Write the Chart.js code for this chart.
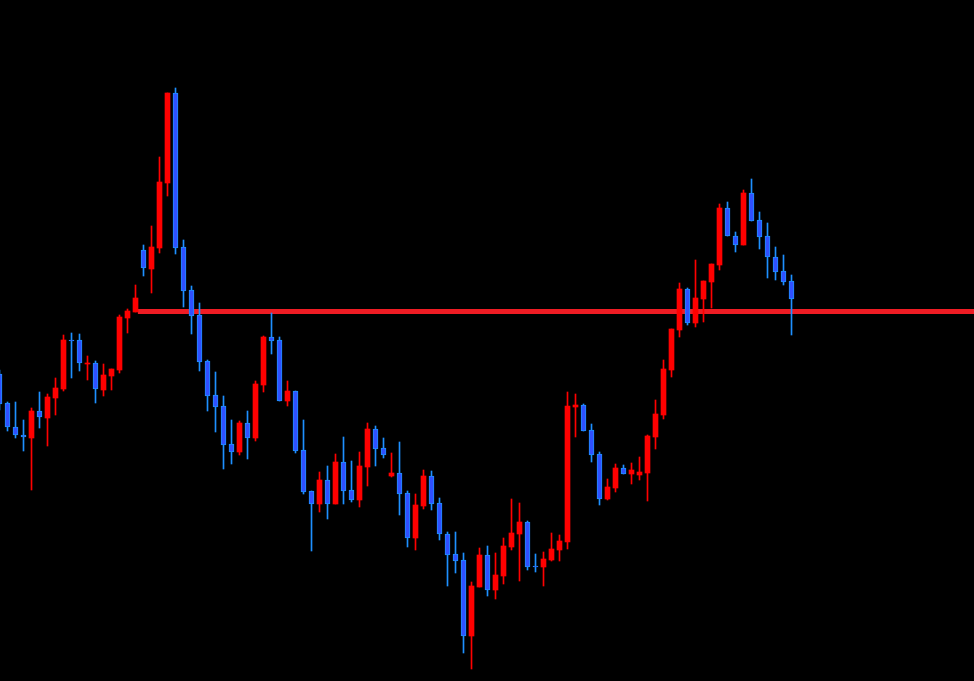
<!DOCTYPE html>
<html>
<head>
<meta charset="utf-8">
<title>Candles</title>
<script src="https://cdn.jsdelivr.net/npm/chart.js@4.4.1/dist/chart.umd.min.js"></script>
<style>
  html, body { margin: 0; padding: 0; background: #000; }
  #wrap { width: 974px; height: 681px; }
</style>
</head>
<body>
<div id="wrap"><canvas id="chart"></canvas></div>
<script>
// OHLC prices, one entry per bar (oldest first)
const opens = [
  1.2307, 1.2278, 1.2254, 1.2246, 1.2243, 1.2270, 1.2263, 1.2283, 1.2292, 1.2341,
  1.2341, 1.2317, 1.2318, 1.2291, 1.2305, 1.2311, 1.2363, 1.2369, 1.2431, 1.2412,
  1.2433, 1.2498, 1.2588, 1.2434, 1.2391, 1.2366, 1.2320, 1.2286, 1.2275, 1.2237,
  1.2229, 1.2258, 1.2243, 1.2296, 1.2344, 1.2341, 1.2280, 1.2290, 1.2231, 1.2190,
  1.2177, 1.2201, 1.2177, 1.2219, 1.2191, 1.2181, 1.2214, 1.2252, 1.2233, 1.2205,
  1.2208, 1.2188, 1.2143, 1.2175, 1.2205, 1.2178, 1.2147, 1.2127, 1.2121, 1.2045,
  1.2094, 1.2126, 1.2091, 1.2105, 1.2134, 1.2147, 1.2159, 1.2115, 1.2114, 1.2121,
  1.2131, 1.2139, 1.2274, 1.2276, 1.2251, 1.2227, 1.2182, 1.2193, 1.2213, 1.2207,
  1.2206, 1.2208, 1.2244, 1.2266, 1.2311, 1.2351, 1.2392, 1.2358, 1.2382, 1.2399,
  1.2416, 1.2473, 1.2445, 1.2436, 1.2488, 1.2461, 1.2445, 1.2424, 1.2410, 1.2400
];
const highs = [
  1.2311, 1.2279, 1.2279, 1.2261, 1.2273, 1.2289, 1.2287, 1.2303, 1.2346, 1.2348,
  1.2347, 1.2325, 1.2320, 1.2317, 1.2312, 1.2366, 1.2372, 1.2396, 1.2436, 1.2455,
  1.2524, 1.2588, 1.2593, 1.2441, 1.2395, 1.2378, 1.2321, 1.2309, 1.2285, 1.2261,
  1.2260, 1.2270, 1.2300, 1.2345, 1.2368, 1.2344, 1.2300, 1.2290, 1.2261, 1.2190,
  1.2209, 1.2215, 1.2227, 1.2244, 1.2220, 1.2229, 1.2258, 1.2255, 1.2243, 1.2228,
  1.2239, 1.2190, 1.2187, 1.2211, 1.2210, 1.2183, 1.2149, 1.2149, 1.2128, 1.2099,
  1.2133, 1.2135, 1.2128, 1.2143, 1.2182, 1.2178, 1.2160, 1.2127, 1.2129, 1.2148,
  1.2146, 1.2289, 1.2287, 1.2277, 1.2257, 1.2229, 1.2202, 1.2217, 1.2216, 1.2218,
  1.2224, 1.2246, 1.2281, 1.2321, 1.2352, 1.2398, 1.2393, 1.2421, 1.2400, 1.2417,
  1.2477, 1.2479, 1.2449, 1.2491, 1.2502, 1.2469, 1.2458, 1.2434, 1.2426, 1.2406
];
const lows = [
  1.2271, 1.2250, 1.2243, 1.2230, 1.2191, 1.2253, 1.2235, 1.2266, 1.2290, 1.2303,
  1.2310, 1.2301, 1.2278, 1.2285, 1.2291, 1.2308, 1.2348, 1.2369, 1.2405, 1.2388,
  1.2428, 1.2485, 1.2427, 1.2374, 1.2347, 1.2310, 1.2270, 1.2249, 1.2212, 1.2217,
  1.2226, 1.2222, 1.2240, 1.2289, 1.2327, 1.2280, 1.2275, 1.2228, 1.2187, 1.2130,
  1.2169, 1.2162, 1.2177, 1.2177, 1.2179, 1.2174, 1.2195, 1.2215, 1.2223, 1.2204,
  1.2166, 1.2134, 1.2131, 1.2172, 1.2171, 1.2141, 1.2095, 1.2108, 1.2028, 1.2012,
  1.2094, 1.2085, 1.2082, 1.2097, 1.2131, 1.2100, 1.2111, 1.2109, 1.2095, 1.2120,
  1.2120, 1.2132, 1.2244, 1.2250, 1.2219, 1.2176, 1.2181, 1.2189, 1.2207, 1.2197,
  1.2201, 1.2180, 1.2232, 1.2262, 1.2304, 1.2344, 1.2356, 1.2354, 1.2359, 1.2373,
  1.2411, 1.2445, 1.2429, 1.2436, 1.2460, 1.2432, 1.2403, 1.2401, 1.2396, 1.2346
];
const closes = [
  1.2277, 1.2254, 1.2246, 1.2244, 1.2270, 1.2264, 1.2284, 1.2293, 1.2341, 1.2340,
  1.2318, 1.2318, 1.2292, 1.2306, 1.2312, 1.2364, 1.2370, 1.2383, 1.2413, 1.2434,
  1.2499, 1.2588, 1.2433, 1.2390, 1.2365, 1.2319, 1.2285, 1.2274, 1.2236, 1.2229,
  1.2258, 1.2243, 1.2297, 1.2344, 1.2340, 1.2280, 1.2290, 1.2230, 1.2189, 1.2177,
  1.2201, 1.2177, 1.2219, 1.2190, 1.2181, 1.2215, 1.2252, 1.2232, 1.2226, 1.2208,
  1.2187, 1.2143, 1.2176, 1.2205, 1.2177, 1.2147, 1.2126, 1.2120, 1.2045, 1.2095,
  1.2126, 1.2091, 1.2106, 1.2135, 1.2148, 1.2159, 1.2114, 1.2114, 1.2122, 1.2132,
  1.2140, 1.2275, 1.2276, 1.2250, 1.2226, 1.2182, 1.2194, 1.2213, 1.2207, 1.2211,
  1.2209, 1.2245, 1.2267, 1.2312, 1.2352, 1.2392, 1.2358, 1.2383, 1.2400, 1.2417,
  1.2473, 1.2445, 1.2436, 1.2488, 1.2460, 1.2444, 1.2424, 1.2409, 1.2399, 1.2382
];

// horizontal level, sits behind the candles
const levelPrice = 1.23695;
const levelStartBar = 17.3;

// visible window (bar index / price)
const xMin = 0.0625;
const xMax = 121.8125;
const yMin = 1.2000;
const yMax = 1.2681;

const upColor = '#ff0000';
const downFill = '#3050ff';
const downEdge = '#1e90ff';
const levelColor = '#ee1c24';

const isUp = opens.map((o, i) => closes[i] >= o);

const bodies = opens.map((o, i) => ({ x: i, y: [o, closes[i]] }));
const wicks = opens.map((o, i) => ({ x: i, y: [lows[i], highs[i]] }));

const ctx = document.getElementById('chart');
new Chart(ctx, {
  type: 'bar',
  data: {
    datasets: [
      {
        data: bodies,
        backgroundColor: isUp.map(u => (u ? upColor : downFill)),
        borderColor: isUp.map(u => (u ? upColor : downEdge)),
        borderWidth: isUp.map(u => (u ? 0 : 1)),
        borderSkipped: false,
        barThickness: 5,
        grouped: false,
        order: 0,
      },
      {
        data: wicks,
        backgroundColor: isUp.map(u => (u ? upColor : downEdge)),
        borderWidth: 0,
        barThickness: 1,
        grouped: false,
        order: 1,
      },
      {
        type: 'line',
        data: [{ x: levelStartBar, y: levelPrice }, { x: xMax, y: levelPrice }],
        borderColor: levelColor,
        borderWidth: 5,
        pointRadius: 0,
        order: 2,
      },
    ],
  },
  options: {
    responsive: true,
    maintainAspectRatio: false,
    animation: false,
    layout: { padding: 0 },
    plugins: { legend: { display: false }, tooltip: { enabled: false } },
    scales: {
      x: { type: 'linear', min: xMin, max: xMax, offset: false, display: false },
      y: { type: 'linear', min: yMin, max: yMax, display: false },
    },
  },
});
</script>
</body>
</html>
